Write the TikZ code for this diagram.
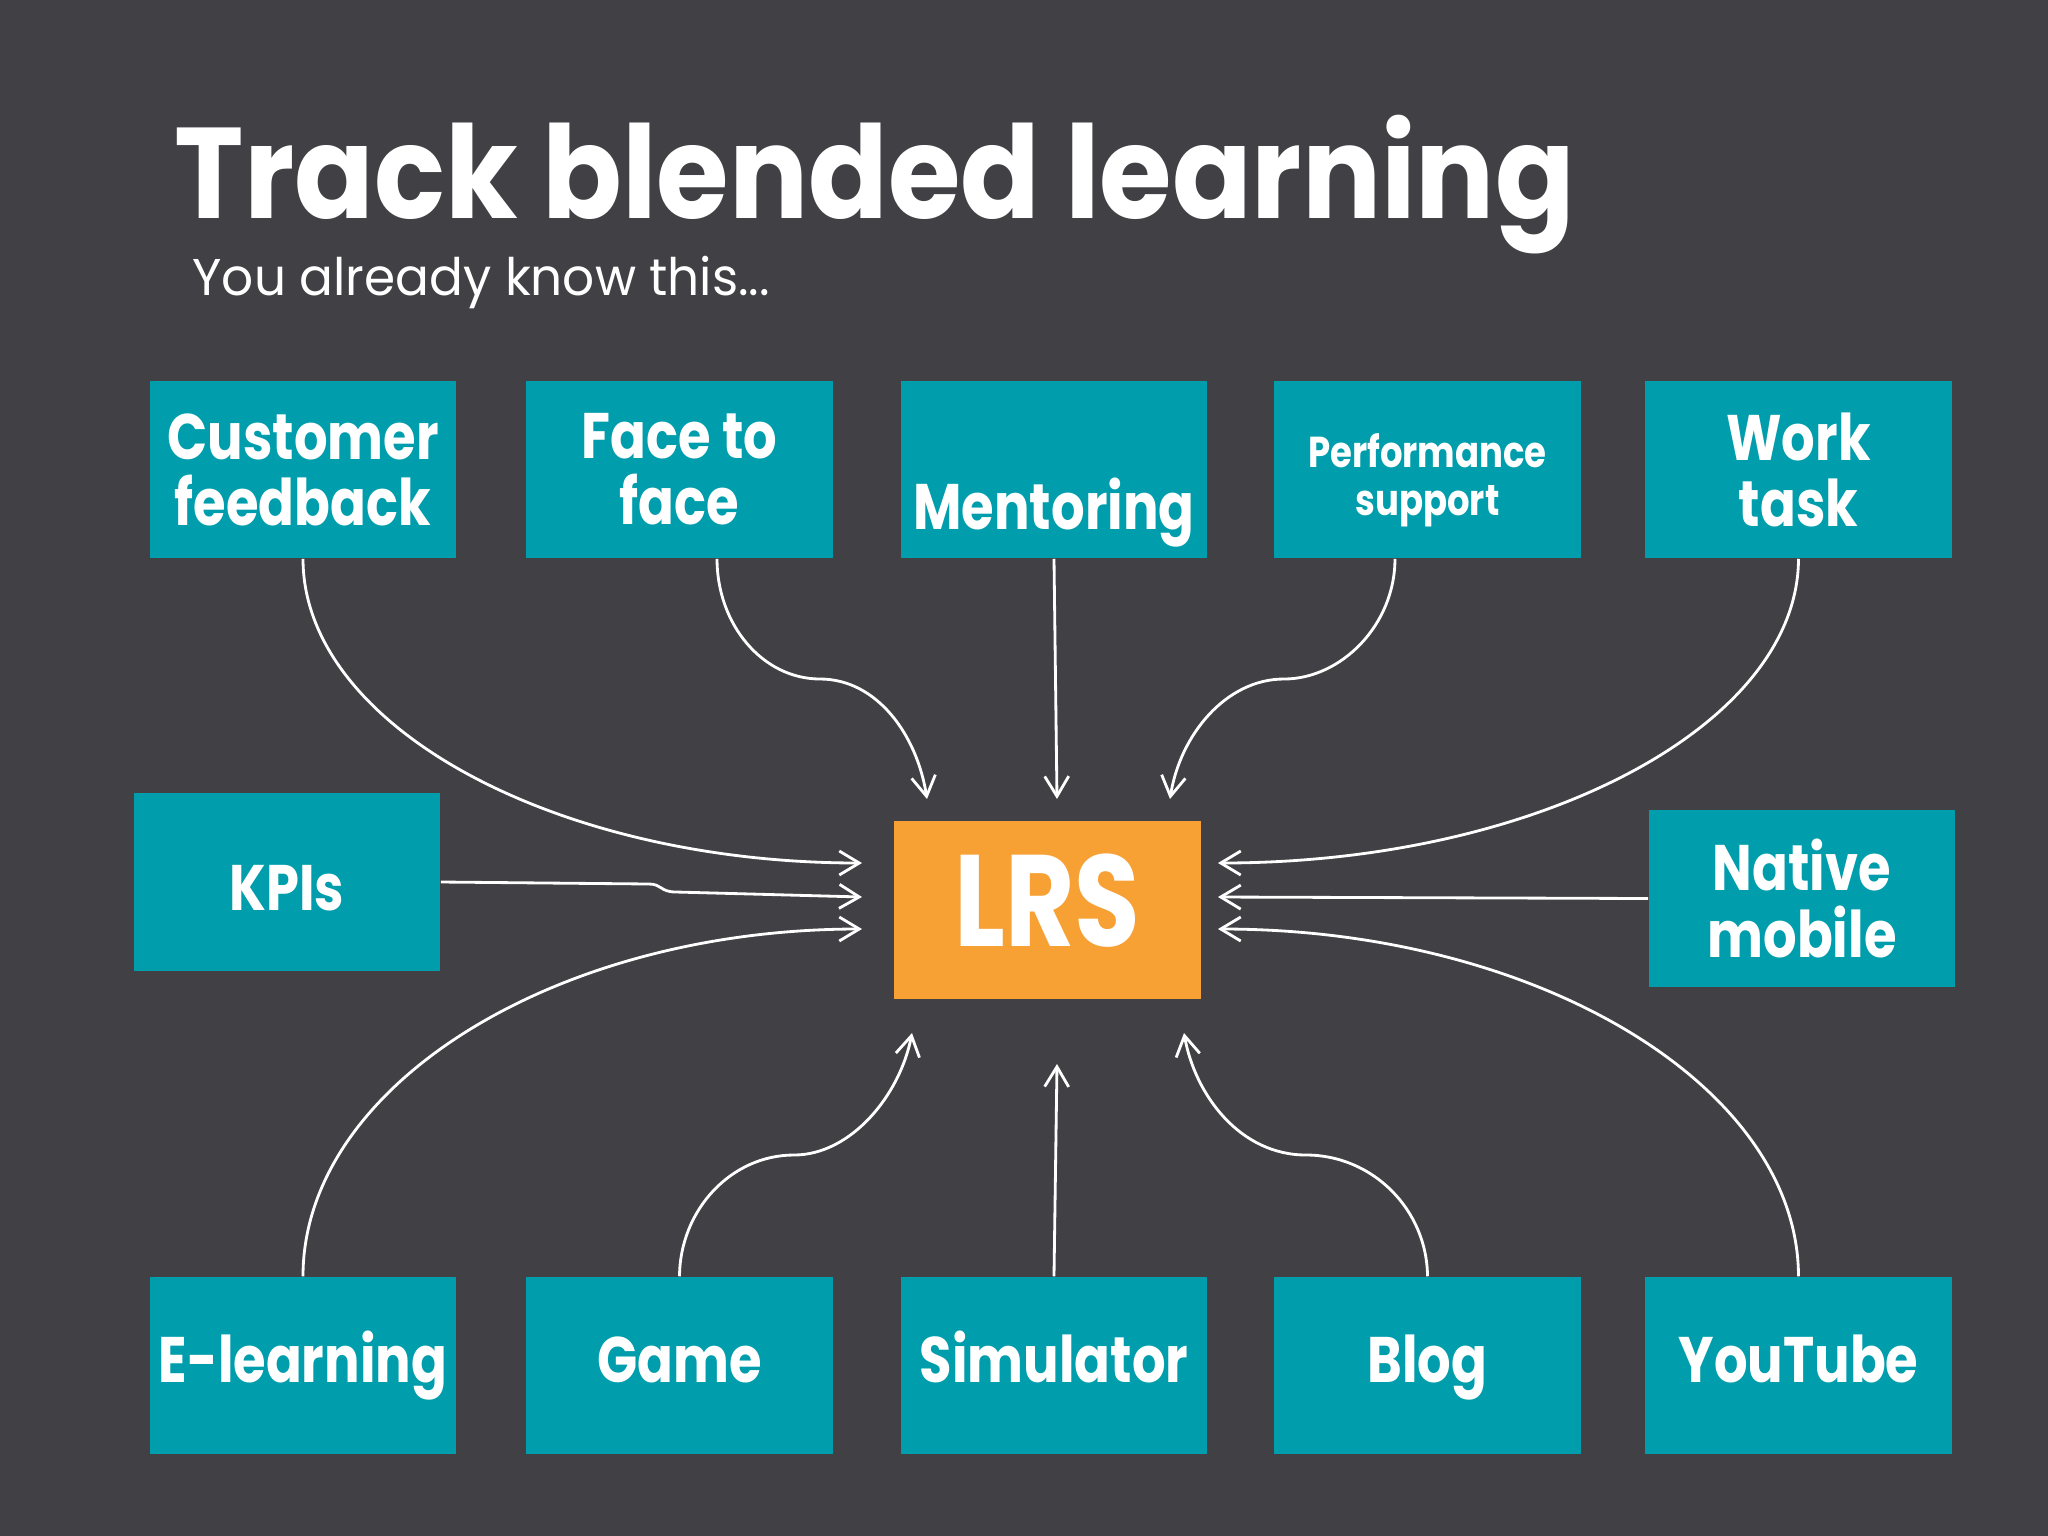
\documentclass[tikz,border=0pt]{standalone}
\usepackage{fontspec}
\setmainfont{Poppins}[FakeStretch=0.82]
\newfontfamily\titlefont{Poppins}[FakeStretch=0.91]
\newfontfamily\subfont{Poppins}[FakeStretch=0.97]
\usetikzlibrary{arrows.meta}
\definecolor{bgcol}{RGB}{65,64,68}
\definecolor{tealbox}{RGB}{0,158,172}
\definecolor{lrsorange}{RGB}{247,160,52}
\tikzset{
  box/.style={fill=tealbox, minimum width=3.06cm, minimum height=1.77cm, inner sep=0pt,
    text=white, align=center, font=\bfseries\fontsize{18.3}{18.8}\selectfont},
  onebox/.style={box, text height=0.45cm, text depth=0.12cm},
  smallbox/.style={box, font=\bfseries\fontsize{12.3}{13.4}\selectfont},
  link/.style={draw=white, line width=0.8pt, -{Straight Barb[length=0.2cm,width=0.24cm]}},
  titletext/.style={anchor=base west, inner sep=0pt, text=white}
}
\begin{document}
\begin{tikzpicture}[x=0.01cm,y=-0.01cm]
\fill[bgcol] (0,0) rectangle (2048,1536);
\useasboundingbox (0,0) rectangle (2048,1536);

\node[titletext, font=\titlefont\bfseries\fontsize{36.7}{40}\selectfont] (title) at (174,218) {Track blended learning};
\node[titletext, font=\subfont\fontsize{14.7}{17}\selectfont] (subtitle) at (192,295) {You already know this...};

% top row
\node[box] (cf) at (303,469.5) {Customer\\feedback};
\node[box] (ff) at (679.5,469.5) {Face to\\face};
\node[box] (men) at (1054,469.5) {\raisebox{-0.595cm}[0pt][0pt]{Mentoring}};
\node[smallbox] (perf) at (1427.5,469.5) {\raisebox{-0.455cm}[0pt][0pt]{\parbox[b]{3cm}{\centering Performance\\support}}};
\node[box] (wt) at (1798.5,469.5) {Work\\task};
% middle row
\node[box, text height=0.6cm, text depth=0.04cm] (kpi) at (287,882) {KPIs};
\node[box, fill=lrsorange, minimum height=1.78cm, text height=0.8cm, text depth=0.08cm,
  font=\bfseries\fontsize{37}{40}\selectfont] (lrs) at (1047.5,910) {LRS};
\node[box] (nm) at (1802,898.5) {Native\\mobile};
% bottom row
\node[onebox] (el) at (303,1365.5) {E-learning};
\node[onebox] (gm) at (679.5,1365.5) {Game};
\node[onebox] (sim) at (1054,1365.5) {Simulator};
\node[onebox] (bl) at (1427.5,1365.5) {Blog};
\node[onebox] (yt) at (1798.5,1365.5) {YouTube};

% arrow end points around LRS
\coordinate (lin1) at (862,863);
\coordinate (lin2) at (862,897);
\coordinate (lin3) at (862,929);
\coordinate (rin1) at (1218,863);
\coordinate (rin2) at (1218,897);
\coordinate (rin3) at (1218,929);
\coordinate (ltop1) at (927,799);
\coordinate (ltop2) at (1057,799);
\coordinate (ltop3) at (1170,799);
\coordinate (lbot1) at (912,1033);
\coordinate (lbot2) at (1057,1064);
\coordinate (lbot3) at (1184,1033);

% connectors
\draw[link] (cf.south) .. controls (303,726) and (555,863) .. (lin1);
\draw[link] (kpi.east) -- (649,884) .. controls (662,884) and (660,892) .. (676,892) -- (lin2);
\draw[link] (el.north) .. controls (303,1086) and (555,929) .. (lin3);
\draw[link] ([xshift=0.375cm]ff.south) .. controls (717,625) and (763,679) .. (820,679)
  .. controls (877,679) and (917,735) .. (ltop1);
\draw[link] (men.south) -- (ltop2);
\draw[link] ([xshift=-0.325cm]perf.south) .. controls (1395,625) and (1341,679) .. (1284,679)
  .. controls (1226,679) and (1180,735) .. (ltop3);
\draw[link] (wt.south) .. controls (1798,726) and (1537,863) .. (rin1);
\draw[link] (nm.west) -- (rin2);
\draw[link] (yt.north) .. controls (1798,1086) and (1537,929) .. (rin3);
\draw[link] (gm.north) .. controls (680,1210) and (731,1155) .. (794,1155)
  .. controls (851,1155) and (900,1095) .. (lbot1);
\draw[link] (sim.north) -- (lbot2);
\draw[link] (bl.north) .. controls (1427,1210) and (1373,1155) .. (1306,1155)
  .. controls (1240,1155) and (1195,1095) .. (lbot3);
\end{tikzpicture}
\end{document}
